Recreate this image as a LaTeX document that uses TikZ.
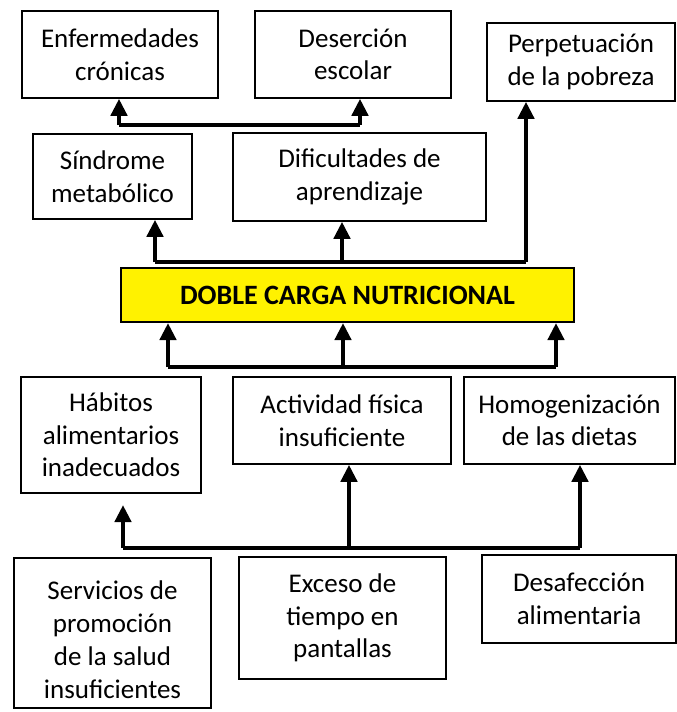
\documentclass[tikz,border=0pt]{standalone}
\usepackage{fontspec}
\setmainfont{Carlito}
\usetikzlibrary{arrows.meta}
\tikzset{
  box/.style={draw=black, line width=1.5pt, rectangle, inner sep=0pt, align=center,
    font=\fontsize{27}{32.5}\selectfont},
  txt/.style={inner sep=0pt, align=center, font=\fontsize{27}{33}\selectfont},
  mainbox/.style={draw=black, line width=2pt, fill=yellow, rectangle, inner sep=0pt,
    font=\fontsize{28}{32}\selectfont\bfseries},
  conn/.style={line width=4.5pt, line join=miter},
  arr/.style={line width=4.5pt, -{Triangle[length=17pt,width=16pt]}}
}
\begin{document}
\begin{tikzpicture}[x=1pt,y=-1pt]
\useasboundingbox (0,0) rectangle (677,712);
% top row
\node[box, minimum width=196pt, minimum height=87pt] (enf) at (120,54.5) {Enfermedades\\crónicas};
\node[box, minimum width=196pt, minimum height=87pt] (des) at (353,54.5) {Deserción\\escolar};
\node[box, minimum width=188pt, minimum height=78pt] (per) at (581,62) {Perpetuación\\de la pobreza};
% second row
\node[box, minimum width=159pt, minimum height=85pt] (sin) at (112.5,176.5) {Síndrome\\metabólico};
\node[box, minimum width=253pt, minimum height=88pt] (dif) at (359.5,177) {Dificultades de\\aprendizaje};
% central
\node[mainbox, minimum width=453pt, minimum height=54pt] (dcn) at (347.5,295) {DOBLE CARGA NUTRICIONAL};
% third row
\node[box, minimum width=180pt, minimum height=116pt] (hab) at (111,435) {Hábitos\\alimentarios\\inadecuados};
\node[box, minimum width=218pt, minimum height=87pt] (act) at (342,420.5) {Actividad física\\insuficiente};
\node[box, minimum width=211pt, minimum height=87pt] (hom) at (569.5,420.5) {Homogenización\\de las dietas};
% bottom row
\node[box, minimum width=197pt, minimum height=150pt] (ser) at (112.5,633) {};
\node[txt] (sertxt) at ([yshift=-7pt]ser.center) {Servicios de\\promoción\\de la salud\\insuficientes};
\node[box, minimum width=207pt, minimum height=122pt] (exc) at (342.5,618) {Exceso de\\tiempo en\\pantallas};
\node[box, minimum width=194pt, minimum height=88pt] (daf) at (579,599) {Desafección\\alimentaria};

% connector: top (Enfermedades / Deserción)
\coordinate (t1) at (119,125);
\coordinate (t2) at (360,125);
\draw[conn] (t1) -- (t2);
\draw[arr] (t1) -- (t1 |- enf.south);
\draw[arr] (t2) -- (t2 |- des.south);

% connector: above central box
\coordinate (m1) at (155,262);
\coordinate (m2) at (342,262);
\coordinate (m3) at (526,262);
\draw[conn] (m1) -- (m3);
\draw[arr] (m1) -- (m1 |- sin.south);
\draw[arr] (m2) -- (m2 |- dif.south);
\draw[arr] (m3) -- (m3 |- per.south);

% connector: below central box
\coordinate (l1) at (168,367);
\coordinate (l2) at (343,367);
\coordinate (l3) at (556,367);
\draw[conn] (l1) -- (l3);
\draw[arr] (l1) -- (l1 |- dcn.south);
\draw[arr] (l2) -- (l2 |- dcn.south);
\draw[arr] (l3) -- (l3 |- dcn.south);

% connector: bottom
\coordinate (b1) at (123,548);
\coordinate (b2) at (349,548);
\coordinate (b3) at (580,548);
\coordinate (b1tip) at (123,505);
\draw[conn] (b1) -- (b3);
\draw[arr] (b1) -- (b1tip);
\draw[arr] (b2) -- (b2 |- act.south);
\draw[arr] (b3) -- (b3 |- hom.south);
\end{tikzpicture}
\end{document}
